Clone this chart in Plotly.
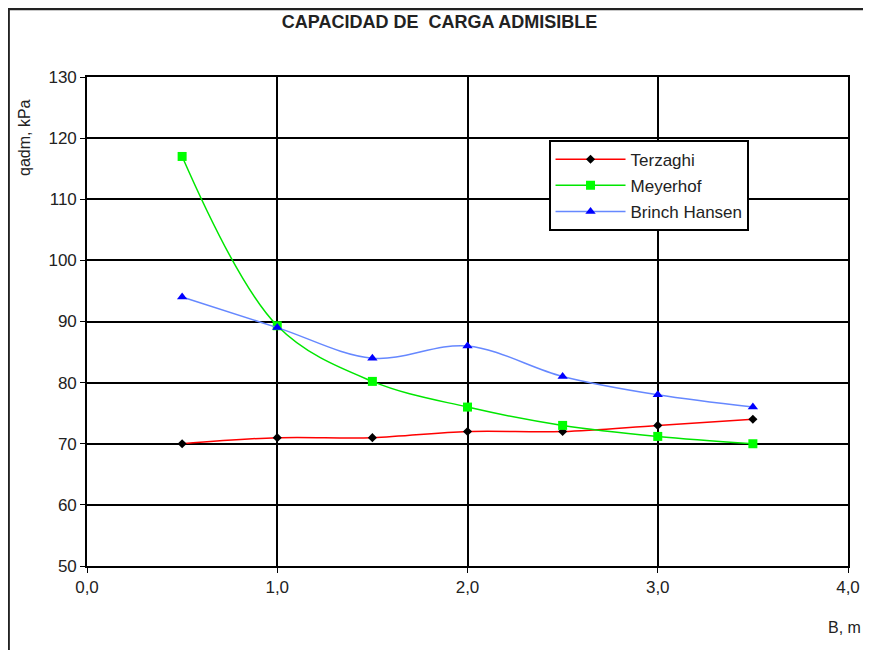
import plotly.graph_objects as go

# Ancho de zapata B (m)
b_m = [0.5, 1.0, 1.5, 2.0, 2.5, 3.0, 3.5]

# Capacidad admisible (kPa)
terzaghi = [70, 71, 71, 72, 72, 73, 74]
meyerhof = [117, 89.3, 80.2, 76, 73, 71.2, 70]
brinch_hansen = [94, 89, 84, 86, 81, 78, 76]

x_ticks = [0, 1, 2, 3, 4]
y_ticks = [50, 60, 70, 80, 90, 100, 110, 120, 130]

font_main = "Liberation Sans, Arial"
txt_color = "#222222"

fig = go.Figure()

fig.add_trace(go.Scatter(
    x=b_m, y=terzaghi, name="Terzaghi", mode="lines+markers", legendgroup="t",
    line=dict(color="#ff0000", width=1.5, shape="spline"),
    marker=dict(symbol="diamond", size=7, color="black"),
))
fig.add_trace(go.Scatter(
    x=b_m, y=meyerhof, name="Meyerhof", mode="lines+markers", legendgroup="m",
    line=dict(color="#00e600", width=1.5, shape="spline"),
    marker=dict(symbol="square", size=9, color="#00ff00"),
))
fig.add_trace(go.Scatter(
    x=b_m, y=brinch_hansen, name="Brinch Hansen", mode="lines+markers", legendgroup="b",
    line=dict(color="#6688ff", width=1.5, shape="spline"),
    marker=dict(symbol="triangle-up", size=9, color="#0000ff"),
))

axis_common = dict(
    showgrid=True, gridcolor="black", gridwidth=1.6,
    showline=True, linecolor="black", linewidth=1.6,
    ticks="outside", ticklen=5, tickcolor="black",
    zeroline=False, mirror=True,
    tickfont=dict(family=font_main, size=17, color=txt_color),
)

fig.update_xaxes(range=[0, 4], tickvals=x_ticks, tickformat=".1f", **axis_common)
fig.update_yaxes(range=[50, 130], tickvals=y_ticks, **axis_common)

# the page body adds an 8px offset, so the figure is a bit smaller and shifted
fig.update_layout(
    width=863, height=642,
    margin=dict(l=79, r=23, t=69, b=84),
    paper_bgcolor="white", plot_bgcolor="white",
    separators=",.",
    showlegend=True,
    legend=dict(
        x=0.607, y=0.871, xanchor="left", yanchor="top",
        bordercolor="black", borderwidth=1.6, bgcolor="white",
        font=dict(family=font_main, size=17, color=txt_color),
        itemwidth=70, tracegroupgap=1,
    ),
    title=dict(
        text="<b>CAPACIDAD DE  CARGA ADMISIBLE</b>",
        x=0.5, xanchor="center", y=0.978, yanchor="middle",
        font=dict(family=font_main, size=18, color=txt_color),
    ),
    annotations=[
        dict(text="qadm, kPa", textangle=-90, xref="paper", yref="paper",
             x=-0.083, y=0.877, xanchor="center", yanchor="middle", showarrow=False,
             font=dict(family=font_main, size=16, color=txt_color)),
        dict(text="B, m", xref="paper", yref="paper",
             x=0.996, y=-0.125, xanchor="center", yanchor="middle", showarrow=False,
             font=dict(family=font_main, size=16, color=txt_color)),
    ],
    shapes=[
        dict(type="rect", xref="paper", yref="paper",
             x0=-0.103, x1=1.5, y0=-0.5, y1=1.139,
             line=dict(color="#222222", width=2.5), layer="below"),
    ],
)

fig.write_html("out.html")
